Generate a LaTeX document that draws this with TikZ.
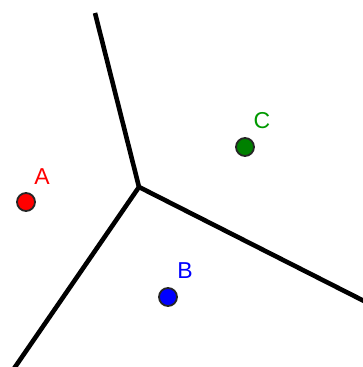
\documentclass[tikz,border=0pt]{standalone}
\usepackage{fontspec}
\setmainfont{Liberation Sans}
\definecolor{ptred}{RGB}{255,0,0}
\definecolor{ptblue}{RGB}{0,0,255}
\definecolor{ptgreen}{RGB}{0,128,0}
\definecolor{lblgreen}{RGB}{0,153,0}
\begin{document}
\begin{tikzpicture}[x=1pt,y=-1pt,
  edge/.style={line width=4.6pt,black},
  pt/.style={circle,draw=black!85,line width=1.8pt,minimum size=18pt,inner sep=0pt},
  lbl/.style={font=\fontsize{23}{23}\selectfont,inner sep=0pt}]
\useasboundingbox (0,0) rectangle (363,367);
\coordinate (V) at (139,187);
\coordinate (T) at (95,13);
\coordinate (R) at (366,302);
\coordinate (L) at (13,370);
\draw[edge] (T) -- (V);
\draw[edge] (V) -- (R);
\draw[edge] (V) -- (L);
\node[pt,fill=ptred] (A) at (26,202) {};
\node[pt,fill=ptblue] (B) at (168,297) {};
\node[pt,fill=ptgreen] (C) at (245,147) {};
\node[lbl,text=ptred] (la) at (42,177) {A};
\node[lbl,text=ptblue] (lb) at (185,271) {B};
\node[lbl,text=lblgreen] (lc) at (262,121) {C};
\end{tikzpicture}
\end{document}
